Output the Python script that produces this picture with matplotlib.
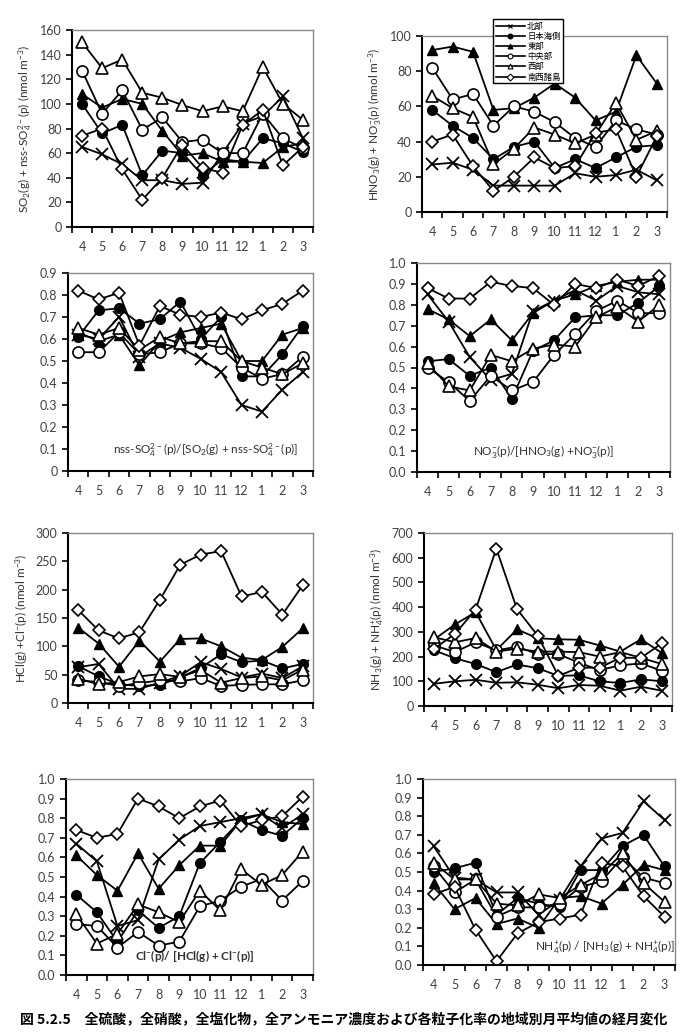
import numpy as np
import matplotlib.pyplot as plt
from matplotlib.lines import Line2D

plt.rcParams['font.family'] = ['Lato', 'Noto Sans CJK JP', 'DejaVu Sans']
plt.rcParams['mathtext.fontset'] = 'custom'
plt.rcParams['mathtext.rm'] = 'Lato'
plt.rcParams['mathtext.default'] = 'regular'

months = ['4', '5', '6', '7', '8', '9', '10', '11', '12', '1', '2', '3']
regions = ['北部', '日本海側', '東部', '中央部', '西部', '南西諸島']

# 全硫酸 SO2(g)+nss-SO4(p)
so2_total = {
    '北部':     [65, 59, 51, 38, 38, 35, 36, 60, 84, 90, 106, 72],
    '日本海側': [100, 76, 83, 42, 62, 60, 42, 55, 53, 72, 68, 61],
    '東部':     [108, 97, 104, 100, 78, 58, 60, 53, 53, 52, 65, 68],
    '中央部':   [127, 92, 111, 79, 89, 69, 71, 60, 60, 92, 72, 64],
    '西部':     [150, 129, 136, 109, 105, 99, 94, 98, 94, 130, 100, 87],
    '南西諸島': [74, 80, 47, 22, 40, 67, 48, 44, 83, 95, 50, 65],
}
# 全硝酸 HNO3(g)+NO3(p)
hno3_total = {
    '北部':     [27, 28, 24, 15, 15, 15, 15, 22, 20, 21, 24, 18],
    '日本海側': [58, 49, 42, 30, 37, 40, 25, 30, 25, 31, 37, 38],
    '東部':     [92, 94, 91, 58, 59, 65, 73, 65, 52, 57, 89, 73],
    '中央部':   [82, 64, 67, 49, 60, 57, 51, 42, 37, 52, 47, 44],
    '西部':     [66, 59, 54, 27, 36, 48, 44, 39, 44, 62, 41, 46],
    '南西諸島': [40, 44, 26, 12, 20, 31, 25, 26, 45, 47, 20, 43],
}
# nss-SO4 粒子化率
so4_ratio = {
    '北部':     [0.62, 0.60, 0.70, 0.52, 0.58, 0.56, 0.51, 0.45, 0.30, 0.27, 0.37, 0.45],
    '日本海側': [0.61, 0.73, 0.74, 0.67, 0.69, 0.77, 0.60, 0.70, 0.43, 0.43, 0.53, 0.66],
    '東部':     [0.63, 0.59, 0.62, 0.48, 0.59, 0.63, 0.65, 0.67, 0.50, 0.50, 0.62, 0.65],
    '中央部':   [0.54, 0.54, 0.63, 0.53, 0.54, 0.58, 0.58, 0.56, 0.47, 0.42, 0.44, 0.52],
    '西部':     [0.65, 0.62, 0.65, 0.55, 0.61, 0.58, 0.59, 0.59, 0.50, 0.47, 0.44, 0.49],
    '南西諸島': [0.82, 0.78, 0.81, 0.57, 0.75, 0.71, 0.70, 0.72, 0.69, 0.73, 0.76, 0.82],
}
# NO3 粒子化率
no3_ratio = {
    '北部':     [0.85, 0.72, 0.55, 0.44, 0.47, 0.77, 0.82, 0.87, 0.82, 0.89, 0.86, 0.85],
    '日本海側': [0.53, 0.54, 0.46, 0.50, 0.35, 0.58, 0.63, 0.74, 0.75, 0.75, 0.81, 0.89],
    '東部':     [0.78, 0.73, 0.65, 0.73, 0.63, 0.76, 0.82, 0.85, 0.89, 0.91, 0.92, 0.92],
    '中央部':   [0.50, 0.43, 0.34, 0.46, 0.39, 0.43, 0.56, 0.66, 0.77, 0.82, 0.76, 0.76],
    '西部':     [0.52, 0.41, 0.39, 0.56, 0.53, 0.59, 0.61, 0.60, 0.74, 0.79, 0.72, 0.80],
    '南西諸島': [0.88, 0.83, 0.83, 0.91, 0.89, 0.88, 0.80, 0.90, 0.88, 0.92, 0.89, 0.94],
}
# 全塩化物 HCl(g)+Cl(p)
hcl_total = {
    '北部':     [63, 69, 25, 25, 36, 48, 72, 60, 45, 52, 44, 65],
    '日本海側': [65, 47, 33, 30, 32, 45, 62, 86, 72, 75, 61, 69],
    '東部':     [133, 105, 64, 110, 73, 113, 114, 100, 80, 76, 99, 132],
    '中央部':   [40, 37, 30, 35, 40, 38, 44, 30, 32, 33, 33, 40],
    '西部':     [43, 33, 37, 47, 51, 46, 58, 36, 44, 47, 40, 59],
    '南西諸島': [164, 128, 114, 125, 182, 244, 262, 268, 188, 196, 156, 208],
}
# 全アンモニア NH3(g)+NH4(p)
nh3_total = {
    '北部':     [90, 100, 106, 94, 96, 86, 72, 85, 82, 62, 78, 62],
    '日本海側': [225, 193, 170, 137, 168, 153, 122, 124, 100, 93, 108, 100],
    '東部':     [270, 330, 380, 226, 310, 274, 270, 268, 245, 220, 270, 215],
    '中央部':   [245, 218, 258, 225, 240, 210, 210, 175, 145, 165, 172, 143],
    '西部':     [278, 258, 275, 220, 232, 220, 220, 218, 200, 218, 195, 170],
    '南西諸島': [232, 292, 390, 637, 392, 285, 122, 155, 155, 195, 195, 253],
}
# Cl 粒子化率
cl_ratio = {
    '北部':     [0.67, 0.58, 0.25, 0.28, 0.59, 0.69, 0.76, 0.78, 0.80, 0.82, 0.75, 0.82],
    '日本海側': [0.41, 0.32, 0.17, 0.33, 0.24, 0.30, 0.57, 0.68, 0.79, 0.74, 0.71, 0.80],
    '東部':     [0.61, 0.51, 0.43, 0.62, 0.44, 0.56, 0.66, 0.66, 0.79, 0.82, 0.78, 0.77],
    '中央部':   [0.26, 0.25, 0.14, 0.22, 0.15, 0.17, 0.35, 0.38, 0.45, 0.49, 0.38, 0.48],
    '西部':     [0.31, 0.16, 0.21, 0.36, 0.32, 0.27, 0.43, 0.33, 0.54, 0.46, 0.51, 0.63],
    '南西諸島': [0.74, 0.70, 0.72, 0.90, 0.86, 0.80, 0.86, 0.89, 0.76, 0.79, 0.81, 0.91],
}
# NH4 粒子化率
nh4_ratio = {
    '北部':     [0.64, 0.47, 0.46, 0.39, 0.39, 0.27, 0.35, 0.53, 0.68, 0.71, 0.88, 0.78],
    '日本海側': [0.50, 0.52, 0.55, 0.27, 0.36, 0.33, 0.31, 0.51, 0.51, 0.64, 0.70, 0.53],
    '東部':     [0.44, 0.30, 0.36, 0.22, 0.25, 0.20, 0.36, 0.37, 0.33, 0.43, 0.54, 0.51],
    '中央部':   [0.53, 0.39, 0.46, 0.26, 0.31, 0.31, 0.33, 0.42, 0.45, 0.58, 0.47, 0.44],
    '西部':     [0.55, 0.46, 0.46, 0.33, 0.32, 0.38, 0.36, 0.43, 0.49, 0.60, 0.44, 0.34],
    '南西諸島': [0.38, 0.42, 0.19, 0.02, 0.17, 0.23, 0.25, 0.27, 0.55, 0.53, 0.37, 0.26],
}

styles = {
    '北部':     dict(marker='x', ms=8, mfc='black', mew=1.3),
    '日本海側': dict(marker='o', ms=7, mfc='black', mew=1.0),
    '東部':     dict(marker='^', ms=7, mfc='black', mew=1.0),
    '中央部':   dict(marker='o', ms=8, mfc='white', mew=1.2),
    '西部':     dict(marker='^', ms=8, mfc='white', mew=1.2),
    '南西諸島': dict(marker='D', ms=6, mfc='white', mew=1.2),
}

W, H = 681, 1033
fig = plt.figure(figsize=(W / 100, H / 100), dpi=100)

def px_axes(left, right, top, bottom):
    return fig.add_axes([left / W, 1 - bottom / H, (right - left) / W, (bottom - top) / H])

def draw(ax, data, ymax, ystep, fmt, ylabel=None, note=None, note_xy=None, note_bold=False, note_ha='center'):
    x = np.arange(len(months))
    for r in regions:
        ax.plot(x, data[r], color='black', lw=1.3, mec='black', **styles[r])
    ax.set_xlim(-0.5, 11.5)
    ax.set_ylim(0, ymax)
    ax.set_xticks(np.arange(-0.5, 12, 1))
    ax.set_xticklabels([])
    ax.set_xticks(x, minor=True)
    ax.set_xticklabels(months, minor=True)
    ax.tick_params(axis='x', which='major', direction='out', length=4, width=1.2)
    ax.tick_params(axis='x', which='minor', length=0, pad=10, labelsize=9, labelcolor='#404040')
    yt = np.arange(0, ymax + ystep / 2, ystep)
    ax.set_yticks(yt)
    ax.set_yticklabels([fmt.format(v) for v in yt])
    ax.tick_params(axis='y', direction='out', length=4, width=1.2, labelsize=9, labelcolor='#404040')
    for s in ['left', 'bottom']:
        ax.spines[s].set_linewidth(1.5)
    for s in ['top', 'right']:
        ax.spines[s].set_color('#888888')
        ax.spines[s].set_linewidth(1.0)
    if ylabel:
        ax.set_ylabel(ylabel, fontsize=8.5, color='#303030', labelpad=4)
    if note:
        ax.text(note_xy[0], note_xy[1], note, transform=ax.transAxes, ha=note_ha, va='center',
                fontsize=8.5, color='#303030', fontweight='bold' if note_bold else 'normal')

ax1 = px_axes(72, 313, 30, 227)
draw(ax1, so2_total, 160, 20, '{:.0f}',
     ylabel='SO$_2$(g) + nss-SO$_4^{2-}$(p) (nmol m$^{-3}$)')

ax2 = px_axes(422, 667, 36, 212)
draw(ax2, hno3_total, 100, 20, '{:.0f}',
     ylabel='HNO$_3$(g) + NO$_3^{-}$(p) (nmol m$^{-3}$)')

ax3 = px_axes(68, 313, 273, 471)
draw(ax3, so4_ratio, 0.9, 0.1, '{:g}',
     note='nss-SO$_4^{2-}$(p)/[SO$_2$(g) + nss-SO$_4^{2-}$(p)]', note_xy=(0.56, 0.105))

ax4 = px_axes(417, 670, 263, 472)
draw(ax4, no3_ratio, 1.0, 0.1, '{:.1f}',
     note='NO$_3^{-}$(p)/[HNO$_3$(g) +NO$_3^{-}$(p)]', note_xy=(0.5, 0.1))

ax5 = px_axes(68, 313, 533, 703)
draw(ax5, hcl_total, 300, 50, '{:.0f}',
     ylabel='HCl(g) +Cl$^{-}$(p) (nmol m$^{-3}$)')

ax6 = px_axes(424, 672, 533, 706)
draw(ax6, nh3_total, 700, 100, '{:.0f}',
     ylabel='NH$_3$(g) + NH$_4^{+}$(p) (nmol m$^{-3}$)')

ax7 = px_axes(66, 313, 779, 975)
draw(ax7, cl_ratio, 1.0, 0.1, '{:.1f}',
     note='Cl$^{-}$(p)/ [HCl(g) + Cl$^{-}$(p)]', note_xy=(0.52, 0.095), note_bold=True)

ax8 = px_axes(423, 675, 779, 965)
draw(ax8, nh4_ratio, 1.0, 0.1, '{:.1f}',
     note='NH$_4^{+}$(p) / [NH$_3$(g) + NH$_4^{+}$(p)]', note_xy=(1.0, 0.1), note_ha='right')

handles = []
for r in regions:
    st = dict(styles[r])
    st['ms'] = 3.5
    st['mew'] = 0.8
    handles.append(Line2D([], [], color='black', lw=1.2, mec='black', **st))
fig.legend(handles, regions, loc='upper left', bbox_to_anchor=(493 / W, 1 - 19 / H),
           fontsize=6, frameon=True, fancybox=False, edgecolor='black', framealpha=1,
           handlelength=3.5, handletextpad=0.3, labelspacing=0.25, borderpad=0.3,
           borderaxespad=0)

fig.text(20 / W, 1 - 1020 / H,
         '図 5.2.5　全硫酸，全硝酸，全塩化物，全アンモニア濃度および各粒子化率の地域別月平均値の経月変化',
         fontsize=10, fontweight='bold', va='center', ha='left',
         family=['Noto Sans CJK JP', 'DejaVu Sans'])

fig.savefig('out.png', dpi=100)
